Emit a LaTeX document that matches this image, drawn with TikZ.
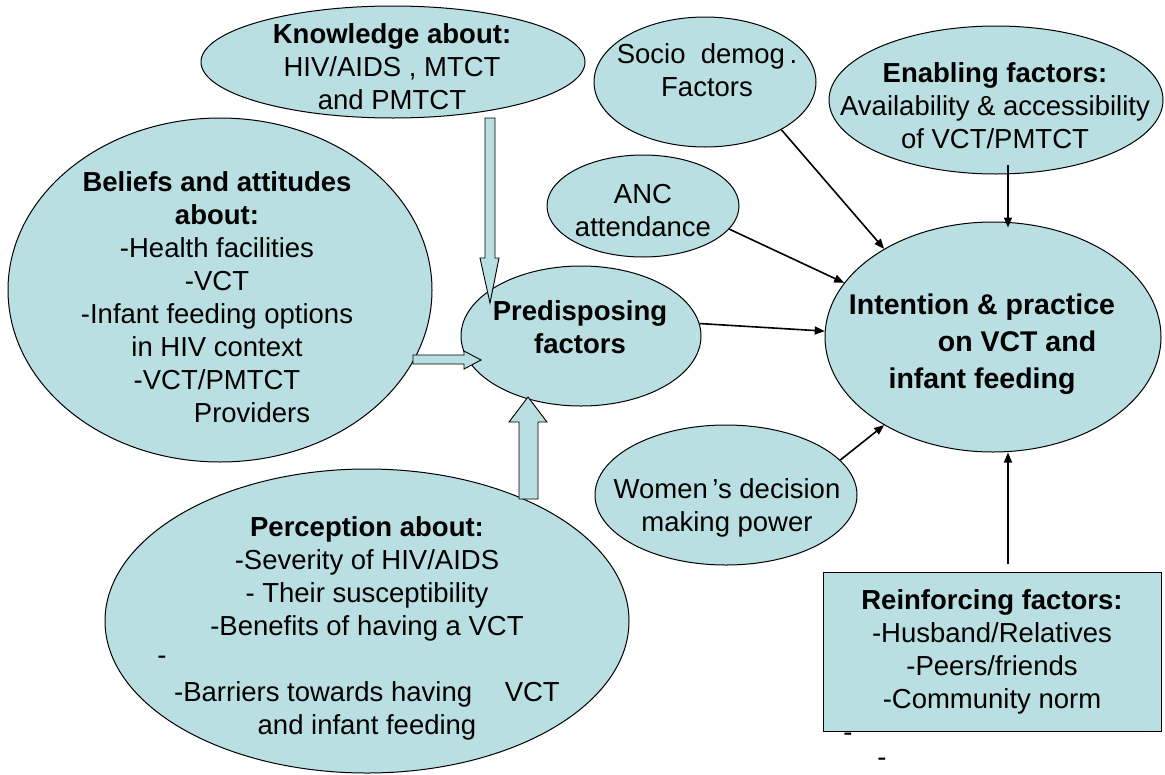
\documentclass[tikz,border=0pt]{standalone}
\usepackage{fontspec}
\setmainfont{Liberation Sans}
\usetikzlibrary{shapes.geometric,arrows.meta}
\definecolor{bubblefill}{RGB}{185,223,227}
\tikzset{
  bubble/.style={ellipse,draw,line width=1pt,fill=bubblefill,inner sep=0pt},
  box/.style={rectangle,draw,line width=1pt,fill=bubblefill,inner sep=0pt},
  txt/.style={align=center,inner sep=0pt,font=\fontsize{27.5}{33}\selectfont},
  bold/.style={txt,font=\fontsize{27.5}{33}\selectfont\bfseries},
  link/.style={line width=1.6pt,-{Triangle[length=10pt,width=8pt]}},
  fat/.style={draw,line width=0.9pt,fill=bubblefill,line join=miter}
}

\begin{document}
\begin{tikzpicture}[x=1pt,y=-1pt]
    \useasboundingbox (0,0) rectangle (1165,774);

    % the ovals, text goes on top later
    \node[bubble,minimum width=384pt,minimum height=112pt] (know)    at (393,62)  {};
    \node[bubble,minimum width=424pt,minimum height=344pt] (belief)  at (220,290) {};
    \node[bubble,minimum width=240pt,minimum height=140pt] (pred)    at (581,336) {};
    \node[bubble,minimum width=524pt,minimum height=304pt] (percept) at (367,621) {};
    \node[bubble,minimum width=222pt,minimum height=130pt] (socio)   at (705,82)  {};
    \node[bubble,minimum width=192pt,minimum height=102pt] (anc)     at (643,206) {};
    \node[bubble,minimum width=334pt,minimum height=148pt] (enab)    at (996,100) {};
    \node[bubble,minimum width=336pt,minimum height=230pt] (intent)  at (993,337) {};
    \node[bubble,minimum width=262pt,minimum height=140pt] (women)   at (726,495) {};

    \node[txt] (dashB) at (848,737) {-};
    \node[box,txt,minimum width=338pt,minimum height=159pt] (reinf) at (992,652)
      {\textbf{Reinforcing factors:}\\-Husband/Relatives\\-Peers/friends\\-Community norm};
    \node[txt] (dashC) at (882,762) {-};

    % fat arrows into the predisposing oval
    \draw[fat] (485,118) -- (495,118) -- (495,258) -- (499,258) -- (490,303)
               -- (480,258) -- (485,258) -- cycle;
    \draw[fat] (413,355) -- (464,355) -- (464,351) -- (481,360) -- (464,369)
               -- (464,364) -- (413,364) -- cycle;
    \draw[fat] (519,499) -- (519,422) -- (509,422) -- (528,397) -- (547,422)
               -- (538,422) -- (538,499) -- cycle;

    % thin arrows into intention & practice
    \foreach \from/\to in {socio.-32/intent.141, anc.-15/intent.160,
                           pred.6/intent.178, women.17/intent.-141}{
      \draw[link] (\from) -- (\to);
    }
    \draw[link] ([shift={(12pt,10pt)}]enab.south) -- ([shift={(15pt,-6pt)}]intent.north);
    \draw[link] ([shift={(16pt,8pt)}]reinf.north) -- ([xshift=15pt]intent.south);

    % labels
    \node[txt] (knowT) at (392,67)
      {\textbf{Knowledge about:}\\HIV/AIDS , MTCT\\and PMTCT};
    \node[txt] (beliefT) at (217,297)
      {\textbf{Beliefs and attitudes}\\\textbf{about:}\\-Health facilities\\-VCT\\
       -Infant feeding options\\in HIV context\\-VCT/PMTCT\\\hspace*{70pt}Providers};
    \node[bold] (predT) at (580,327) {Predisposing\\factors};
    \node[txt] (perceptT) at (367,628)
      {\textbf{Perception about:}\\-Severity of HIV/AIDS\\- Their susceptibility\\
       -Benefits of having a VCT\\[33pt]-Barriers towards having\hspace{25pt} VCT\\
       and infant feeding};
    \node[txt] (dashA) at (162,660) {-};
    \node[txt] (socioT) at (707,70) {Socio\ \ demog\,.\\Factors};
    \node[txt] (ancT) at (643,211) {ANC\\attendance};
    \node[txt] (enabT) at (995,106)
      {\textbf{Enabling factors:}\\Availability \& accessibility\\of VCT/PMTCT};
    \node[bold,font=\fontsize{28.5}{37}\selectfont\bfseries] (intentT) at (982,344)
      {Intention \& practice\\\hspace*{70pt}on VCT and\\infant feeding};
    \node[txt] (womenT) at (727,508) {Women\,’s decision\\making power};
\end{tikzpicture}
\end{document}
